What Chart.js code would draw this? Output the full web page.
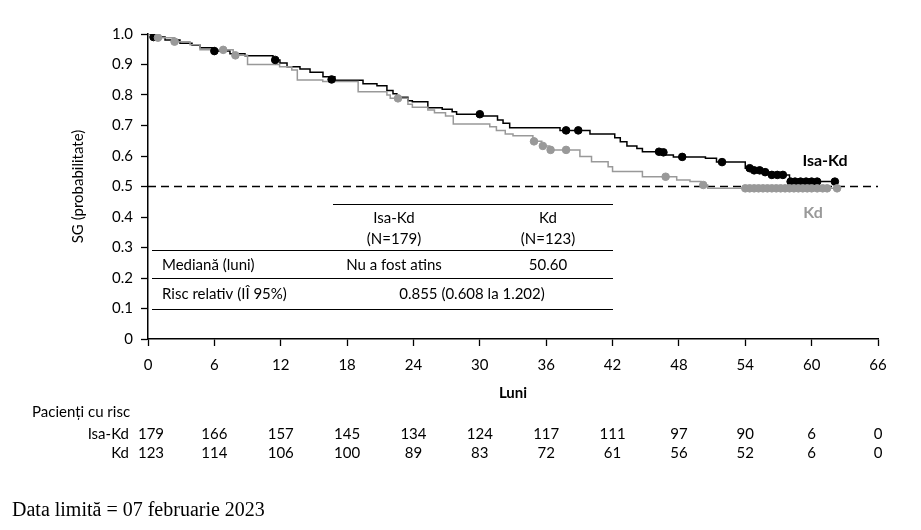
<!DOCTYPE html>
<html>
<head>
<meta charset="utf-8">
<script src="https://cdn.jsdelivr.net/npm/chart.js@4"></script>
<style>
  body { margin: 0; background: #fff; }
  #wrap { width: 921px; height: 530px; position: relative; }
</style>
</head>
<body>
<div id="wrap"><canvas id="km" width="921" height="530"></canvas></div>
<script>
// Isa-Kd curve (luni, probabilitate)
const isaLuni = [0, 0.36, 1.54, 2.89, 3.98, 4.7, 5.97, 7.41, 8.77, 11.3, 11.93, 12.57, 13.74, 14.65, 15.82, 16.9, 19.44, 20.7, 21.6, 22.15, 22.5, 23.5, 23.9, 25.3, 26.6, 27.5, 27.9, 30.1, 31.6, 32.1, 32.7, 37.25, 39.96, 42.2, 42.7, 43.3, 44.2, 44.7, 46.7, 47.5, 50.4, 51.4, 54.0, 54.9, 55.8, 56.5, 58.0, 62.1];
const isaSG   = [1.0, 0.99, 0.98, 0.97, 0.963, 0.955, 0.944, 0.935, 0.929, 0.915, 0.905, 0.893, 0.885, 0.875, 0.86, 0.848, 0.837, 0.83, 0.815, 0.804, 0.793, 0.781, 0.778, 0.758, 0.753, 0.745, 0.737, 0.731, 0.718, 0.707, 0.693, 0.684, 0.672, 0.66, 0.647, 0.633, 0.625, 0.614, 0.603, 0.597, 0.593, 0.58, 0.56, 0.553, 0.547, 0.538, 0.516, 0.516];

// Kd curve
const kdLuni = [0, 0.9, 2.4, 3.8, 4.7, 7.7, 9.0, 11.9, 13.0, 13.5, 15.8, 19.0, 21.6, 21.9, 23.5, 23.9, 25.3, 25.9, 26.9, 27.6, 30.9, 31.5, 32.3, 33.0, 34.8, 35.6, 36.3, 39.05, 40.1, 41.6, 42.0, 44.7, 47.8, 49.0, 50.0, 50.6, 62.3];
const kdSG   = [1.0, 0.988, 0.975, 0.965, 0.948, 0.93, 0.9, 0.893, 0.882, 0.849, 0.844, 0.811, 0.8, 0.789, 0.77, 0.76, 0.751, 0.742, 0.731, 0.705, 0.696, 0.684, 0.672, 0.666, 0.648, 0.633, 0.62, 0.598, 0.581, 0.565, 0.549, 0.532, 0.521, 0.516, 0.505, 0.494, 0.494];

// cenzurari (puncte)
const isaCenzLuni = [0.5, 6.0, 11.5, 16.6, 30.0, 37.8, 38.9, 46.2, 46.6, 48.3, 51.9, 54.4, 54.8, 55.3, 55.8, 56.4, 56.9, 57.4, 58.1, 58.5, 59.0, 59.5, 60.0, 60.5, 62.1];
const isaCenzSG   = [0.99, 0.944, 0.915, 0.851, 0.737, 0.684, 0.684, 0.614, 0.612, 0.597, 0.58, 0.56, 0.553, 0.553, 0.547, 0.538, 0.538, 0.538, 0.516, 0.516, 0.516, 0.516, 0.516, 0.516, 0.516];
const kdCenzLuni = [0.9, 2.4, 6.8, 7.9, 22.6, 34.9, 35.7, 36.4, 37.8, 46.8, 50.2, 54.0, 54.4, 54.8, 55.2, 55.6, 56.0, 56.4, 56.8, 57.2, 57.6, 58.0, 58.4, 58.8, 59.2, 59.6, 60.0, 60.5, 61.0, 61.4, 62.3];
const kdCenzSG   = [0.988, 0.975, 0.948, 0.93, 0.789, 0.648, 0.633, 0.62, 0.62, 0.532, 0.505, 0.494, 0.494, 0.494, 0.494, 0.494, 0.494, 0.494, 0.494, 0.494, 0.494, 0.494, 0.494, 0.494, 0.494, 0.494, 0.494, 0.494, 0.494, 0.494, 0.494];

const luniTicks = [0, 6, 12, 18, 24, 30, 36, 42, 48, 54, 60, 66];
const riscIsaKd = [179, 166, 157, 145, 134, 124, 117, 111, 97, 90, 6, 0];
const riscKd    = [123, 114, 106, 100, 89, 83, 72, 61, 56, 52, 6, 0];

const NEGRU = "#000000";
const GRI = "#999999";
const FONT = "Lato, 'Open Sans', sans-serif";

function puncte(xs, ys) {
  return xs.map((x, i) => ({ x: x, y: ys[i] }));
}

const textePlugin = {
  id: "texte",
  afterDraw(chart) {
    const ctx = chart.ctx;
    const xs = chart.scales.x;
    const area = chart.chartArea;
    ctx.save();

    // titlu axa Y
    ctx.fillStyle = NEGRU;
    ctx.font = "15px " + FONT;
    ctx.textAlign = "center";
    ctx.textBaseline = "middle";
    ctx.save();
    ctx.translate(78, (area.top + area.bottom) / 2);
    ctx.rotate(-Math.PI / 2);
    ctx.fillText("SG (probabilitate)", 0, 0);
    ctx.restore();

    // titlu axa X
    ctx.font = "bold 15px " + FONT;
    ctx.fillText("Luni", xs.getPixelForValue(33), 393);

    // etichete curbe
    ctx.font = "bold 16px " + FONT;
    ctx.fillText("Isa-Kd", 825, 161);
    ctx.fillStyle = GRI;
    ctx.fillText("Kd", 813, 213);

    // tabel median / risc
    ctx.strokeStyle = NEGRU;
    ctx.lineWidth = 1.2;
    const linii = [[333, 204], [152, 250], [152, 278], [152, 309]];
    linii.forEach(l => {
      ctx.beginPath();
      ctx.moveTo(l[0], l[1] + 0.5);
      ctx.lineTo(613, l[1] + 0.5);
      ctx.stroke();
    });
    ctx.fillStyle = NEGRU;
    ctx.font = "15px " + FONT;
    ctx.textAlign = "center";
    ctx.fillText("Isa-Kd", 394, 218);
    ctx.fillText("(N=179)", 394, 239);
    ctx.fillText("Kd", 548, 218);
    ctx.fillText("(N=123)", 548, 239);
    ctx.fillText("Nu a fost atins", 394, 265);
    ctx.fillText("50.60", 548, 265);
    ctx.fillText("0.855 (0.608 la 1.202)", 472, 294);
    ctx.textAlign = "left";
    ctx.fillText("Mediană (luni)", 162, 265);
    ctx.fillText("Risc relativ (IÎ 95%)", 162, 294);

    // pacienti cu risc
    ctx.font = "15px " + FONT;
    ctx.fillText("Pacienți cu risc", 32, 412);
    ctx.textAlign = "right";
    ctx.fillText("Isa-Kd", 129, 434);
    ctx.fillText("Kd", 129, 453);
    ctx.textAlign = "center";
    luniTicks.forEach((t, i) => {
      let px = xs.getPixelForValue(t);
      if (i === 0) px += 3;
      ctx.fillText(String(riscIsaKd[i]), px, 434);
      ctx.fillText(String(riscKd[i]), px, 453);
    });

    // nota
    ctx.textAlign = "left";
    ctx.font = "20px 'Liberation Serif', 'Times New Roman', serif";
    ctx.fillText("Data limită = 07 februarie 2023", 12, 511);

    ctx.restore();
  }
};

new Chart(document.getElementById("km"), {
  type: "scatter",
  data: {
    datasets: [
      {
        label: "Kd cenzurat",
        data: puncte(kdCenzLuni, kdCenzSG),
        backgroundColor: GRI,
        borderColor: GRI,
        pointRadius: 3.8,
        showLine: false,
        order: 1
      },
      {
        label: "Isa-Kd cenzurat",
        data: puncte(isaCenzLuni, isaCenzSG),
        backgroundColor: NEGRU,
        borderColor: NEGRU,
        pointRadius: 3.8,
        showLine: false,
        order: 2
      },
      {
        label: "Kd",
        data: puncte(kdLuni, kdSG),
        borderColor: GRI,
        borderWidth: 1.5,
        pointRadius: 0,
        showLine: true,
        stepped: "before",
        order: 3
      },
      {
        label: "Isa-Kd",
        data: puncte(isaLuni, isaSG),
        borderColor: NEGRU,
        borderWidth: 1.5,
        pointRadius: 0,
        showLine: true,
        stepped: "before",
        order: 4
      },
      {
        label: "median",
        data: [{ x: 0, y: 0.5 }, { x: 66, y: 0.5 }],
        borderColor: NEGRU,
        borderWidth: 1.5,
        borderDash: [8, 5],
        pointRadius: 0,
        showLine: true,
        order: 5
      }
    ]
  },
  options: {
    responsive: false,
    animation: false,
    layout: { padding: { left: 0, top: 34, right: 43, bottom: 151 } },
    plugins: { legend: { display: false }, tooltip: { enabled: false } },
    scales: {
      x: {
        type: "linear",
        min: 0,
        max: 66,
        afterFit: s => { s.height = 40; },
        afterBuildTicks: s => { s.ticks = luniTicks.map(v => ({ value: v })); },
        ticks: { color: NEGRU, font: { family: FONT, size: 15 }, padding: 10, maxRotation: 0 },
        grid: { drawOnChartArea: false, color: NEGRU, tickLength: 7, tickWidth: 1.3 },
        border: { color: NEGRU, width: 1.5 }
      },
      y: {
        type: "linear",
        min: 0,
        max: 1,
        afterFit: s => { s.width = 148; },
        ticks: {
          stepSize: 0.1,
          color: NEGRU,
          font: { family: FONT, size: 15 },
          padding: 8,
          callback: v => (v === 0 ? "0" : v.toFixed(1))
        },
        grid: { drawOnChartArea: false, color: NEGRU, tickLength: 7, tickWidth: 1.3 },
        border: { color: NEGRU, width: 1.5 }
      }
    }
  },
  plugins: [textePlugin]
});
</script>
</body>
</html>
